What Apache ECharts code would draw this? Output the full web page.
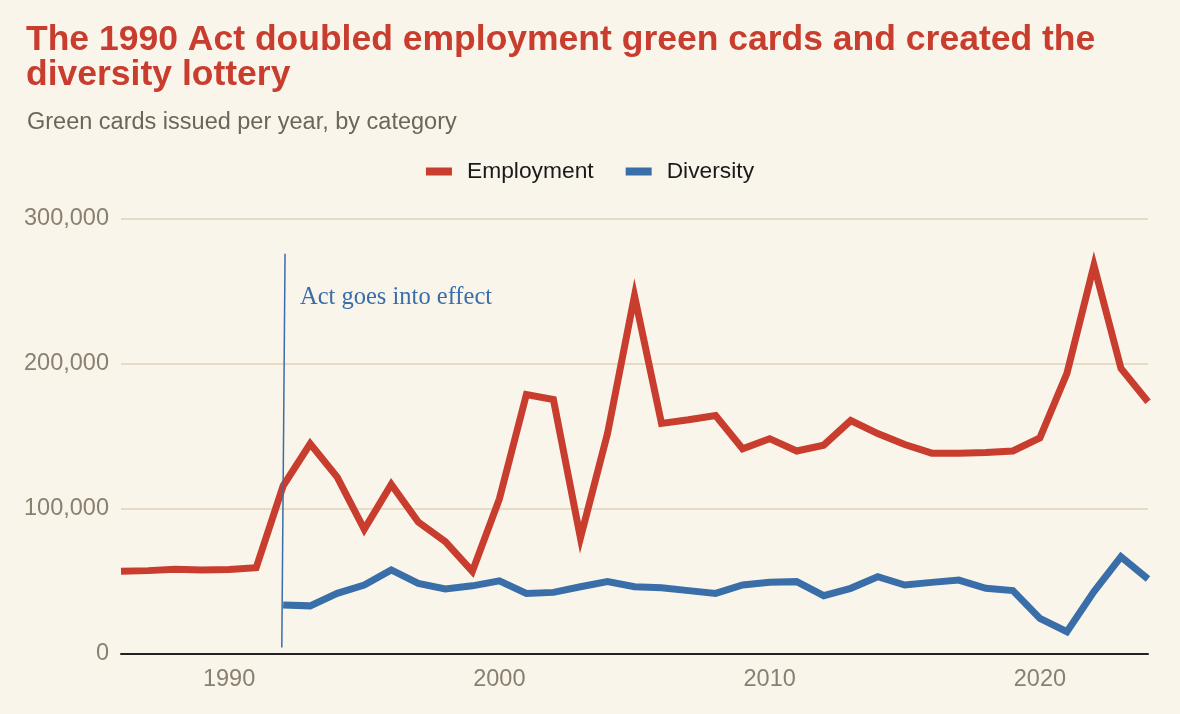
<!DOCTYPE html>
<html>
<head>
<meta charset="utf-8">
<script src="https://cdn.jsdelivr.net/npm/echarts@6/dist/echarts.min.js"></script>
<style>
  html, body { margin: 0; padding: 0; background: #f9f5ea; }
  #chart { width: 1180px; height: 714px; }
</style>
</head>
<body>
<div id="chart"></div>
<script>
// Years on the x axis
const years = [1986, 1987, 1988, 1989, 1990, 1991, 1992, 1993, 1994, 1995,
    1996, 1997, 1998, 1999, 2000, 2001, 2002, 2003, 2004, 2005,
    2006, 2007, 2008, 2009, 2010, 2011, 2012, 2013, 2014, 2015,
    2016, 2017, 2018, 2019, 2020, 2021, 2022, 2023, 2024];

// Employment-based green cards
const employment = [57000, 57500, 58500, 58000, 58300, 59500, 116000, 145000, 122000, 86000,
    117000, 91000, 77500, 57000, 107000, 179000, 175500, 80000, 152000, 247000,
    159000, 161500, 164500, 141500, 148500, 140000, 144000, 161000, 152000, 144500,
    138500, 138500, 139000, 140000, 149000, 193500, 268000, 197000, 174000];

// Diversity lottery (starts 1992)
const diversity = [null, null, null, null, null, null, 33800, 33200, 41800, 47500,
    58000, 48700, 44800, 47000, 50500, 41800, 42500, 46400, 49900, 46400,
    45700, 43700, 41800, 47600, 49400, 49900, 40200, 45300, 53300, 47600,
    49400, 51000, 45300, 43700, 24600, 15400, 43000, 67000, 51700];

const yTicks = [0, 100000, 200000, 300000];
const xLabelYears = [1990, 2000, 2010, 2020];
const actYear = 1992;

const RED = '#c83d2e';
const BLUE = '#3a6ea9';
const SANS = 'Liberation Sans, Arial, sans-serif';

const chart = echarts.init(document.getElementById('chart'));

const toPairs = vals => years.map((y, i) => [y, vals[i]]).filter(p => p[1] !== null);

const option = {
    backgroundColor: '#f9f5ea',
    animation: false,
    title: [{
        text: 'The 1990 Act doubled employment green cards and created the\ndiversity lottery',
        left: 21,
        top: 18,
        textStyle: {
            color: RED,
            fontFamily: SANS,
            fontWeight: 'bold',
            fontSize: 35.5,
            lineHeight: 35
        }
    }, {
        text: 'Green cards issued per year, by category',
        left: 22,
        top: 106,
        textStyle: {
            color: '#6e655a',
            fontFamily: SANS,
            fontWeight: 'normal',
            fontSize: 23.5
        }
    }],
    legend: {
        top: 155,
        left: 'center',
        icon: 'rect',
        itemWidth: 26,
        itemHeight: 8,
        itemGap: 32,
        textStyle: {
            color: '#1a1a1a',
            fontFamily: SANS,
            fontSize: 22.8,
            padding: [0, 0, 0, 10]
        },
        data: ['Employment', 'Diversity']
    },
    grid: {
        left: 121,
        right: 32,
        top: 219,
        bottom: 60,
        containLabel: false
    },
    xAxis: {
        type: 'value',
        min: years[0],
        max: years[years.length - 1],
        interval: 1,
        axisLine: { show: true, lineStyle: { color: '#222', width: 2 } },
        axisTick: { show: false },
        splitLine: { show: false },
        axisLabel: {
            color: '#8a8070',
            fontFamily: SANS,
            fontSize: 23.5,
            margin: 14,
            formatter: v => xLabelYears.includes(v) ? String(v) : ''
        }
    },
    yAxis: {
        type: 'value',
        min: yTicks[0],
        max: yTicks[yTicks.length - 1],
        interval: 100000,
        axisLine: { show: false },
        axisTick: { show: false },
        splitLine: { lineStyle: { color: '#e5dcc3', width: 2 } },
        axisLabel: {
            color: '#8a8070',
            fontFamily: SANS,
            fontSize: 23.5,
            margin: 12,
            formatter: v => v.toLocaleString('en-US')
        }
    },
    series: [{
        name: 'Employment',
        type: 'line',
        data: toPairs(employment),
        symbol: 'none',
        lineStyle: { color: RED, width: 7, join: 'miter' },
        itemStyle: { color: RED },
        z: 3
    }, {
        name: 'Diversity',
        type: 'line',
        data: toPairs(diversity),
        symbol: 'none',
        lineStyle: { color: BLUE, width: 7, join: 'miter' },
        itemStyle: { color: BLUE },
        z: 3,
        markLine: {
            silent: true,
            symbol: 'none',
            label: { show: false },
            lineStyle: { color: BLUE, width: 1.5, type: 'solid' },
            data: [[
                { coord: [actYear - 0.05, 4500] },
                { coord: [actYear + 0.07, 276000] }
            ]]
        }
    }],
    graphic: [{
        type: 'text',
        left: 300,
        top: 285,
        style: {
            text: 'Act goes into effect',
            fill: BLUE,
            font: '24.5px "Liberation Serif", "DejaVu Serif", serif'
        }
    }]
};

chart.setOption(option);
</script>
</body>
</html>
